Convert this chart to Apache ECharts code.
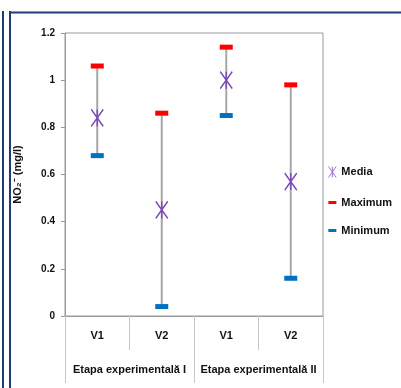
<!DOCTYPE html>
<html><head><meta charset="utf-8">
<script src="https://cdn.jsdelivr.net/npm/echarts@6/dist/echarts.min.js"></script>
<style>html,body{margin:0;padding:0;background:#fff}#c{width:401px;height:388px}</style>
</head><body><div id="c"></div>
<script>
const categories = ['V1', 'V2', 'V1', 'V2'];
const groups = ['Etapa experimentală I', 'Etapa experimentală II'];
const media = [0.84, 0.45, 1.00, 0.57];
const maximum = [1.06, 0.86, 1.14, 0.98];
const minimum = [0.68, 0.04, 0.85, 0.16];
const yTicks = ['0', '0.2', '0.4', '0.6', '0.8', '1', '1.2'];

const FONT = '"Liberation Sans Narrow", "Liberation Sans", Arial, sans-serif';
const chart = echarts.init(document.getElementById('c'), null, {renderer: 'canvas'});
const star = 'path://M0,0L12,17M12,0L0,17M6,0L6,17';
const dash = 'path://M0,0L8,0L8,3L0,3Z';
chart.setOption({
  animation: false,
  grid: {left: 65, right: 78, top: 33, bottom: 72, show: true, borderColor: '#9a9a9a', borderWidth: 1, backgroundColor: 'transparent'},
  legend: {
    orient: 'vertical', left: 321, top: 159, itemGap: 17, itemWidth: 8, itemHeight: 11,
    textStyle: {fontFamily: FONT, fontWeight: 'bold', fontSize: 11, color: '#111'},
    data: [
      {name: 'Media', icon: 'path://M0,0L7,10M7,0L0,10M3.5,0L3.5,10', itemStyle: {color: 'none', borderColor: '#9b6fd0', borderWidth: 1}},
      {name: 'Maximum', icon: dash},
      {name: 'Minimum', icon: dash}
    ]
  },
  xAxis: [{
    type: 'category', data: categories, boundaryGap: true,
    axisLine: {show: true, lineStyle: {color: '#9a9a9a'}},
    axisTick: {show: true, length: 34, lineStyle: {color: '#c8c8c8'}},
    axisLabel: {margin: 14, interval: 0, fontFamily: FONT, fontWeight: 'bold', fontSize: 11, color: '#111'}
  }, {
    type: 'category', data: groups, position: 'bottom', boundaryGap: true,
    axisLine: {show: false},
    axisTick: {show: true, length: 67, interval: 0, lineStyle: {color: '#c8c8c8'}},
    axisLabel: {margin: 48, interval: 0, hideOverlap: false, fontFamily: FONT, fontWeight: 'bold', fontSize: 11, color: '#111'}
  }],
  yAxis: {
    type: 'value', min: 0, max: 1.2, interval: 0.2,
    name: 'NO₂⁻ (mg/l)', nameLocation: 'middle', nameGap: 42, nameRotate: 90,
    nameTextStyle: {fontFamily: FONT, fontWeight: 'bold', fontSize: 11, color: '#111'},
    axisLine: {show: true, lineStyle: {color: '#9a9a9a'}},
    axisTick: {show: true, length: 4, lineStyle: {color: '#9a9a9a'}},
    splitLine: {show: false},
    axisLabel: {margin: 10, fontFamily: FONT, fontWeight: 'bold', fontSize: 10, color: '#111',
      formatter: (v) => yTicks[Math.round(v / 0.2)]}
  },
  series: [{
    type: 'custom', name: 'range', silent: true, z: 1,
    data: categories.map((c, i) => [i, minimum[i], maximum[i]]),
    renderItem: (params, api) => {
      const a = api.coord([api.value(0), api.value(1)]);
      const b = api.coord([api.value(0), api.value(2)]);
      return {type: 'line', shape: {x1: a[0], y1: a[1], x2: b[0], y2: b[1]}, style: {stroke: '#a6a6a6', lineWidth: 2}};
    }
  }, {
    type: 'scatter', name: 'Maximum', z: 3, symbol: 'rect', symbolSize: [13, 5],
    itemStyle: {color: '#ff0000', opacity: 1}, data: maximum
  }, {
    type: 'scatter', name: 'Minimum', z: 3, symbol: 'rect', symbolSize: [13, 5],
    itemStyle: {color: '#0070c0', opacity: 1}, data: minimum
  }, {
    type: 'scatter', name: 'Media', z: 4, symbol: star, symbolSize: [12, 17],
    itemStyle: {color: 'none', borderColor: '#7a48b8', borderWidth: 1.6, opacity: 1}, data: media
  }],
  graphic: [
    {type: 'line', shape: {x1: 3, y1: 11, x2: 3, y2: 388}, style: {stroke: '#1f3b7a', lineWidth: 2}},
    {type: 'line', shape: {x1: 10, y1: 11, x2: 10, y2: 388}, style: {stroke: '#1f3b7a', lineWidth: 2}},
    {type: 'line', shape: {x1: 9, y1: 12.5, x2: 401, y2: 12.5}, style: {stroke: '#1f3b7a', lineWidth: 2}}
  ]
});
</script></body></html>
